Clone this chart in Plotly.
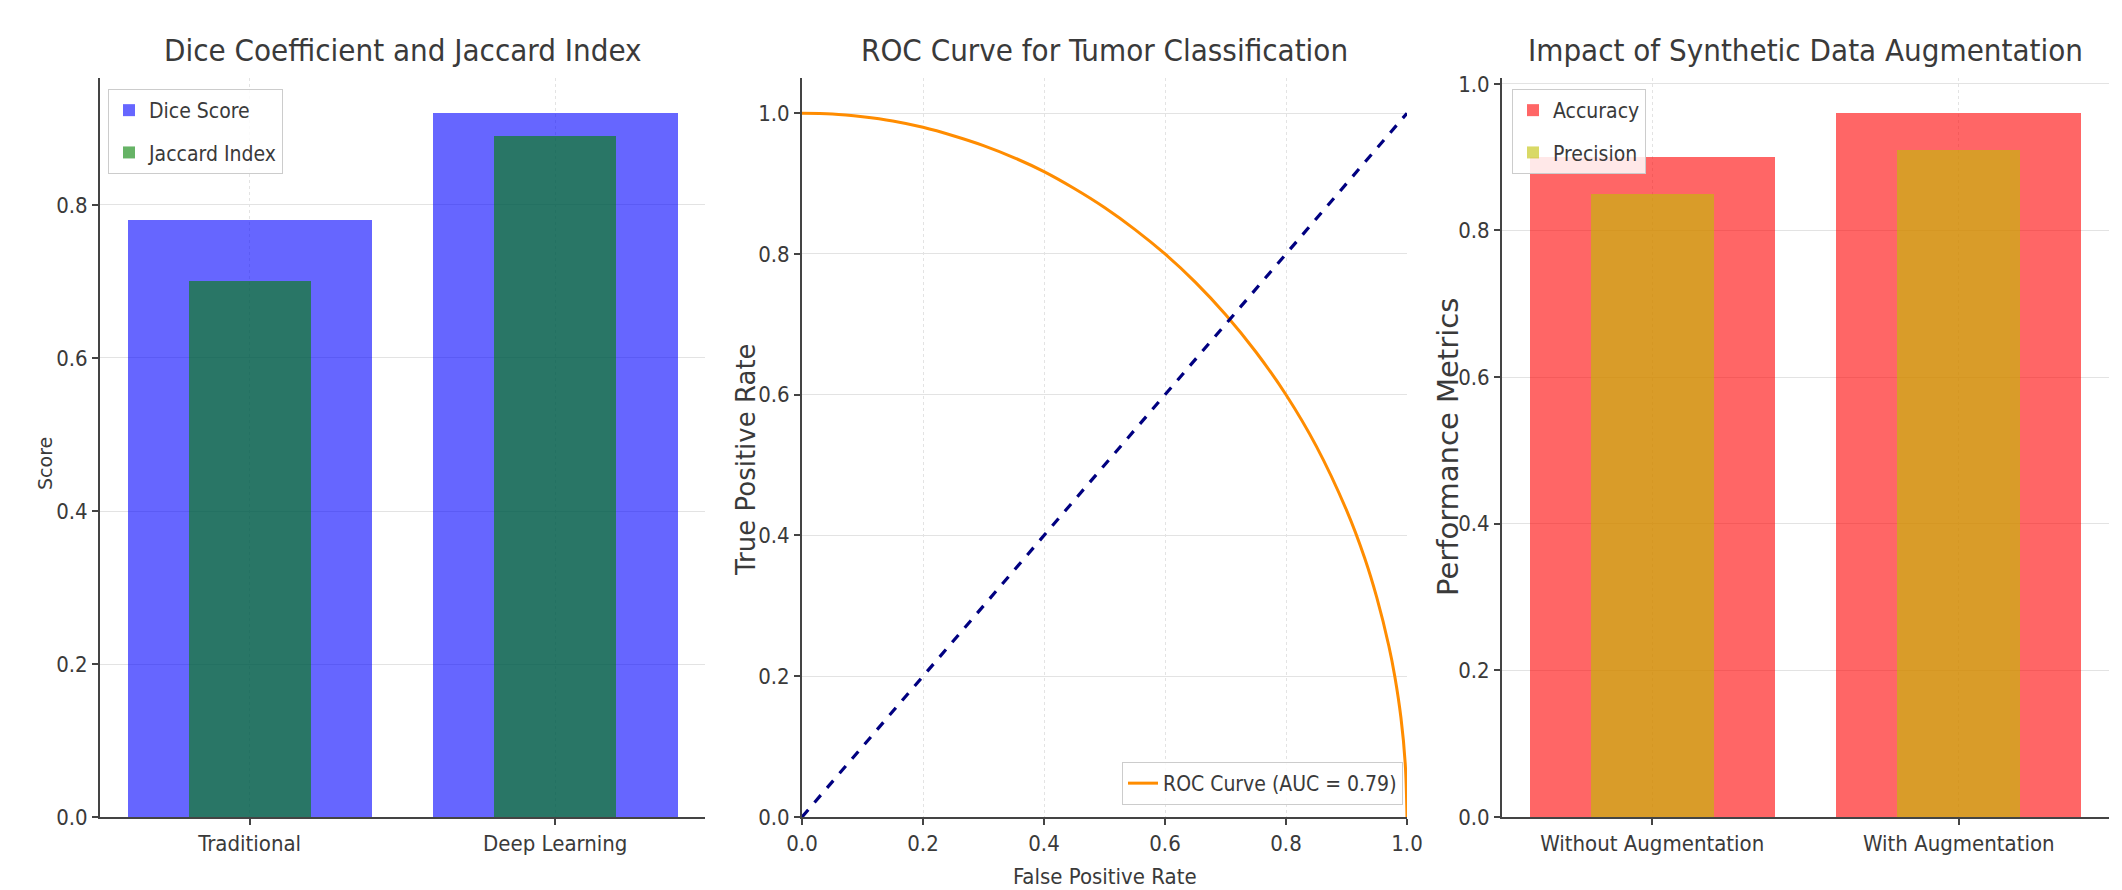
import plotly.graph_objects as go

# ---- data ----
methods = ["Traditional", "Deep Learning"]
dice_scores = [0.78, 0.92]
jaccard_index = [0.70, 0.89]

roc_fpr = [0.0, 0.05, 0.1, 0.15, 0.2, 0.25, 0.3, 0.35, 0.4, 0.45, 0.5, 0.55, 0.6,
           0.65, 0.7, 0.75, 0.8, 0.85, 0.9, 0.93, 0.95, 0.97, 0.98, 0.99, 0.997, 1.0]
roc_tpr = [1.0, 0.999, 0.995, 0.989, 0.98, 0.968, 0.954, 0.937, 0.917, 0.893, 0.866, 0.835, 0.80,
           0.76, 0.714, 0.661, 0.60, 0.527, 0.436, 0.368, 0.312, 0.243, 0.199, 0.141, 0.077, 0.0]
chance_x = [0.0, 1.0]
chance_y = [0.0, 1.0]
auc_label = "ROC Curve (AUC = 0.79)"

aug_groups = ["Without Augmentation", "With Augmentation"]
accuracy = [0.90, 0.96]
precision = [0.85, 0.91]

# ---- style ----
OFF = 8  # default page body margin
W, H = 2122 - OFF, 890 - OFF
COND = "DejaVu Sans Condensed, Liberation Sans Narrow, DejaVu Sans, sans-serif"
NORM = "DejaVu Sans, sans-serif"
TXT = "#3a3a3a"

def px(xp):
    return (xp - OFF) / W

def py(yp):
    return (H - (yp - OFF)) / H

fig = go.Figure()

fig.add_trace(go.Bar(x=methods, y=dice_scores, name="Dice Score", width=0.8, legendgroup="a",
                     marker=dict(color="rgba(0,0,255,0.6)", line=dict(width=0)),
                     xaxis="x", yaxis="y", legend="legend"))
fig.add_trace(go.Bar(x=methods, y=jaccard_index, name="Jaccard Index", width=0.4, legendgroup="b",
                     marker=dict(color="rgba(0,128,0,0.6)", line=dict(width=0)),
                     xaxis="x", yaxis="y", legend="legend"))

fig.add_trace(go.Scatter(x=roc_fpr, y=roc_tpr, mode="lines", name=auc_label,
                         line=dict(color="#ff8c00", width=3, shape="spline"),
                         xaxis="x2", yaxis="y2", legend="legend2"))
fig.add_trace(go.Scatter(x=chance_x, y=chance_y, mode="lines", showlegend=False,
                         line=dict(color="#000080", width=3.2, dash="dash"),
                         xaxis="x2", yaxis="y2"))

fig.add_trace(go.Bar(x=aug_groups, y=accuracy, name="Accuracy", width=0.8, legendgroup="c",
                     marker=dict(color="rgba(255,0,0,0.6)", line=dict(width=0)),
                     xaxis="x3", yaxis="y3", legend="legend3"))
fig.add_trace(go.Bar(x=aug_groups, y=precision, name="Precision", width=0.4, legendgroup="d",
                     marker=dict(color="rgba(191,191,0,0.6)", line=dict(width=0)),
                     xaxis="x3", yaxis="y3", legend="legend3"))

ydom = [py(817), py(78)]
xdoms = [[px(100), px(705)], [px(802), px(1407)], [px(1502), px(2109)]]

common_axis = dict(showline=True, linecolor="#444", linewidth=2, ticks="outside",
                   ticklen=6, tickcolor="#444", tickwidth=1.5, automargin=False,
                   tickfont=dict(family=COND, size=22, color=TXT),
                   gridcolor="#e3e3e3", gridwidth=1.2, zeroline=False)

def xax(dom, anchor, **kw):
    d = dict(common_axis)
    d.update(domain=dom, anchor=anchor, griddash="dot", showgrid=True)
    d.update(kw)
    return d

def yax(anchor, **kw):
    d = dict(common_axis)
    d.update(domain=ydom, anchor=anchor, showgrid=True)
    d.update(kw)
    return d

legend_common = dict(bgcolor="rgba(255,255,255,0.85)", bordercolor="#cccccc", borderwidth=1,
                     font=dict(family=COND, size=21, color=TXT), xref="paper", yref="paper",
                     itemwidth=30, tracegroupgap=12, traceorder="grouped")

fig.update_layout(
    width=W, height=H, margin=dict(l=0, r=0, t=0, b=0, autoexpand=False),
    paper_bgcolor="white", plot_bgcolor="white",
    barmode="overlay", bargap=0,
    xaxis=xax(xdoms[0], "y", type="category", range=[-0.49, 1.49]),
    yaxis=yax("x", range=[0, 0.966], tickvals=[0, 0.2, 0.4, 0.6, 0.8], tickformat=".1f"),
    xaxis2=xax(xdoms[1], "y2", range=[0, 1], tickvals=[0, 0.2, 0.4, 0.6, 0.8, 1.0], tickformat=".1f"),
    yaxis2=yax("x2", range=[0, 1.05], tickvals=[0, 0.2, 0.4, 0.6, 0.8, 1.0], tickformat=".1f"),
    xaxis3=xax(xdoms[2], "y3", type="category", range=[-0.49, 1.49]),
    yaxis3=yax("x3", range=[0, 1.008], tickvals=[0, 0.2, 0.4, 0.6, 0.8, 1.0], tickformat=".1f"),
    legend=dict(legend_common, x=px(108), y=py(89), xanchor="left", yanchor="top"),
    legend2=dict(legend_common, x=px(1403), y=py(805), xanchor="right", yanchor="bottom"),
    legend3=dict(legend_common, x=px(1512), y=py(89), xanchor="left", yanchor="top"),
    showlegend=True,
)

titles = [("Dice Coefficient and Jaccard Index", 402.5),
          ("ROC Curve for Tumor Classification", 1104.5),
          ("Impact of Synthetic Data Augmentation", 1805.5)]
for t, cx in titles:
    fig.add_annotation(text=t, x=px(cx), y=py(50), xref="paper", yref="paper",
                       showarrow=False, xanchor="center", yanchor="middle",
                       font=dict(family=COND, size=31, color=TXT))

ytitles = [("Score", 45, 464, 19), ("True Positive Rate", 746, 460, 26),
           ("Performance Metrics", 1448, 447, 29)]
for t, cx, cy, fs in ytitles:
    fig.add_annotation(text=t, x=px(cx), y=py(cy), xref="paper", yref="paper",
                       showarrow=False, xanchor="center", yanchor="middle", textangle=-90,
                       font=dict(family=NORM, size=fs, color=TXT))

fig.add_annotation(text="False Positive Rate", x=px(1104.5), y=py(876), xref="paper", yref="paper",
                   showarrow=False, xanchor="center", yanchor="middle",
                   font=dict(family=COND, size=22, color=TXT))

fig.write_html("out.html")
